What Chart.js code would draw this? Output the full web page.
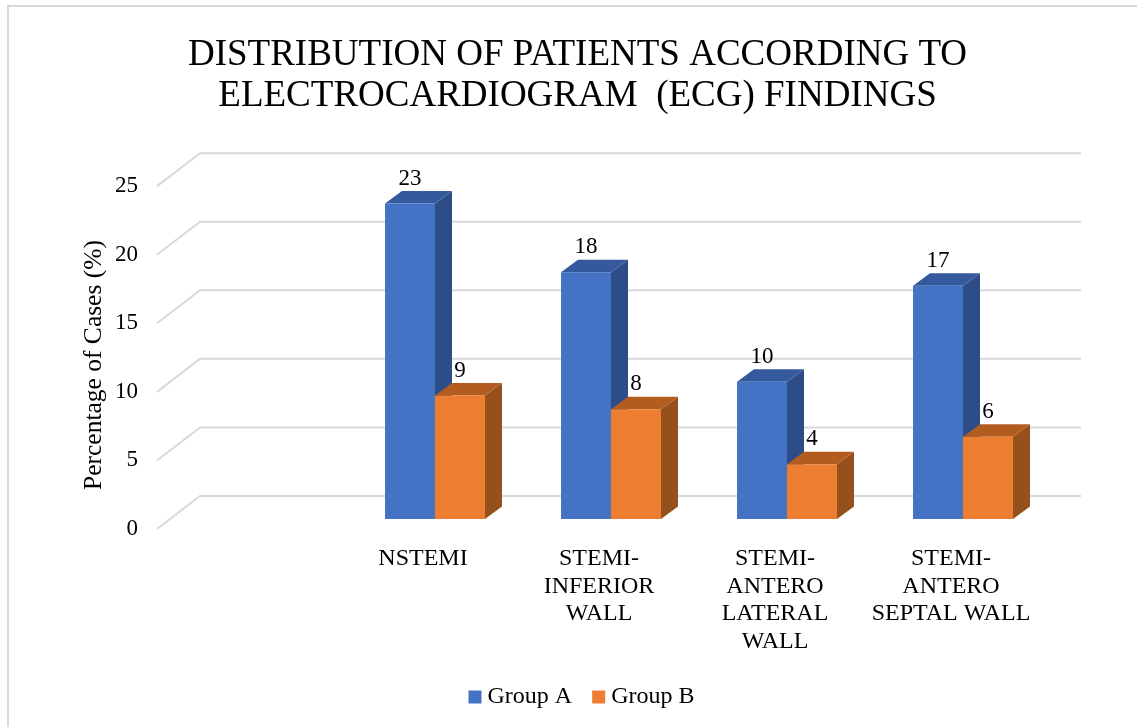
<!DOCTYPE html>
<html>
<head>
<meta charset="utf-8">
<style>
  html, body { margin: 0; padding: 0; background: #fff; }
  #wrap { position: relative; width: 1137px; height: 727px; overflow: hidden; }
  canvas { position: absolute; left: 0; top: 0; }
</style>
<script src="https://cdn.jsdelivr.net/npm/chart.js@4"></script>
</head>
<body>
<div id="wrap"><canvas id="chart" width="1137" height="727"></canvas></div>
<script>
const categories = ['', 'NSTEMI', ['STEMI-', 'INFERIOR', 'WALL'], ['STEMI-', 'ANTERO', 'LATERAL', 'WALL'], ['STEMI-', 'ANTERO', 'SEPTAL WALL']];
const groupA = [null, 23, 18, 10, 17];
const groupB = [null, 9, 8, 4, 6];
const titleLines = ['DISTRIBUTION OF PATIENTS ACCORDING TO', 'ELECTROCARDIOGRAM  (ECG) FINDINGS'];
const yAxisTitle = 'Percentage of Cases (%)';

const SERIF = '"Liberation Serif", "Times New Roman", serif';
const INK = '#000000';
const GRID = '#d9d9d9';
const FRAME = '#d9d9d9';
const faces = [
  { front: '#4472C4', top: '#345A9D', side: '#2C4D87' },
  { front: '#ED7D31', top: '#B25C20', side: '#96501C' }
];

// Oblique projection used for the pseudo-3D look
const BAR_DX = 17, BAR_DY = 12.5;      // depth of a bar
const WALL_DY = 23;                    // bar front plane to back wall
const WALL_X0 = 200, WALL_X1 = 1081;   // back wall extent
const FLOOR_DX = 43, FLOOR_DY = 33;    // back wall to front edge of the floor
const LEGEND_SHIFT = 7;

const frame3d = {
  id: 'frame3d',
  afterLayout(chart) {
    chart.legend.left += LEGEND_SHIFT;
    chart.legend.right += LEGEND_SHIFT;
  },
  beforeDraw(chart) {
    const { ctx } = chart;
    ctx.save();
    ctx.fillStyle = '#fff';
    ctx.fillRect(0, 0, chart.width, chart.height);
    // The outer border runs off the right and bottom of the canvas
    ctx.strokeStyle = FRAME;
    ctx.lineWidth = 2;
    ctx.strokeRect(8, 6, 1200, 800);
    ctx.restore();
  },
  beforeDatasetsDraw(chart) {
    const { ctx } = chart;
    const y = chart.scales.y;
    ctx.save();
    // Back wall grid lines with their diagonal run across the floor
    ctx.strokeStyle = GRID;
    ctx.lineWidth = 2;
    y.ticks.forEach(t => {
      const py = y.getPixelForValue(t.value) - WALL_DY;
      ctx.beginPath();
      ctx.moveTo(WALL_X0 - FLOOR_DX, py + FLOOR_DY);
      ctx.lineTo(WALL_X0, py);
      ctx.lineTo(WALL_X1, py);
      ctx.stroke();
    });
    // Top and side faces; the front faces come from the bar elements
    chart.data.datasets.forEach((ds, di) => {
      const meta = chart.getDatasetMeta(di);
      const c = faces[di];
      meta.data.forEach((bar, i) => {
        if (ds.data[i] == null) return;
        const p = bar.getProps(['x', 'y', 'base', 'width']);
        const l = p.x - p.width / 2, r = p.x + p.width / 2;
        ctx.fillStyle = c.side;
        ctx.beginPath();
        ctx.moveTo(r, p.y);
        ctx.lineTo(r + BAR_DX, p.y - BAR_DY);
        ctx.lineTo(r + BAR_DX, p.base - BAR_DY);
        ctx.lineTo(r, p.base);
        ctx.closePath();
        ctx.fill();
        ctx.fillStyle = c.top;
        ctx.beginPath();
        ctx.moveTo(l, p.y);
        ctx.lineTo(l + BAR_DX, p.y - BAR_DY);
        ctx.lineTo(r + BAR_DX, p.y - BAR_DY);
        ctx.lineTo(r, p.y);
        ctx.closePath();
        ctx.fill();
      });
    });
    ctx.restore();
  },
  afterDatasetsDraw(chart) {
    const { ctx } = chart;
    ctx.save();
    ctx.fillStyle = INK;
    ctx.font = '23px ' + SERIF;
    ctx.textAlign = 'center';
    ctx.textBaseline = 'middle';
    // Value labels above each bar
    chart.data.datasets.forEach((ds, di) => {
      chart.getDatasetMeta(di).data.forEach((bar, i) => {
        if (ds.data[i] == null) return;
        const p = bar.getProps(['x', 'y']);
        ctx.fillText(String(ds.data[i]), p.x, p.y - 25);
      });
    });
    // Vertical axis caption
    ctx.font = '25.5px ' + SERIF;
    ctx.translate(94, 365);
    ctx.rotate(-Math.PI / 2);
    ctx.fillText(yAxisTitle, 0, 0);
    ctx.restore();
  }
};

new Chart(document.getElementById('chart'), {
  type: 'bar',
  plugins: [frame3d],
  data: {
    labels: categories,
    datasets: [
      { label: 'Group A', data: groupA, backgroundColor: faces[0].front },
      { label: 'Group B', data: groupB, backgroundColor: faces[1].front }
    ]
  },
  options: {
    responsive: false,
    animation: false,
    layout: { padding: { left: 18, right: 0, top: 0, bottom: 8 } },
    categoryPercentage: 0.568,
    barPercentage: 1,
    plugins: {
      tooltip: { enabled: false },
      title: {
        display: true,
        text: titleLines,
        color: INK,
        font: { family: SERIF, size: 37, weight: 'normal', lineHeight: 1.11 },
        padding: { top: 34.5, bottom: 59.5 }
      },
      legend: {
        display: true,
        position: 'bottom',
        labels: {
          color: INK,
          usePointStyle: true,
          pointStyle: 'rect',
          boxWidth: 1,
          boxHeight: 13,
          padding: 26,
          font: { family: SERIF, size: 24 }
        }
      }
    },
    scales: {
      x: {
        grid: { display: false, drawTicks: false },
        border: { display: false },
        afterFit(s) { s.height = 140; },
        ticks: {
          color: INK,
          font: { family: SERIF, size: 24, lineHeight: 1.15 },
          maxRotation: 0,
          minRotation: 0,
          autoSkip: false,
          padding: 26,
          labelOffset: -12
        }
      },
      y: {
        min: 0,
        max: 25,
        grid: { display: false, drawTicks: false },
        border: { display: false },
        afterFit(s) { s.width = 153; },
        ticks: {
          color: INK,
          font: { family: SERIF, size: 23 },
          stepSize: 5,
          padding: 33,
          labelOffset: 10
        }
      },
      // Empty right-hand gutter that leaves room for the back wall
      gutter: {
        axis: 'y',
        position: 'right',
        grid: { display: false, drawTicks: false },
        border: { display: false },
        ticks: { display: false },
        afterFit(s) { s.width = 86; }
      }
    }
  }
});
</script>
</body>
</html>
